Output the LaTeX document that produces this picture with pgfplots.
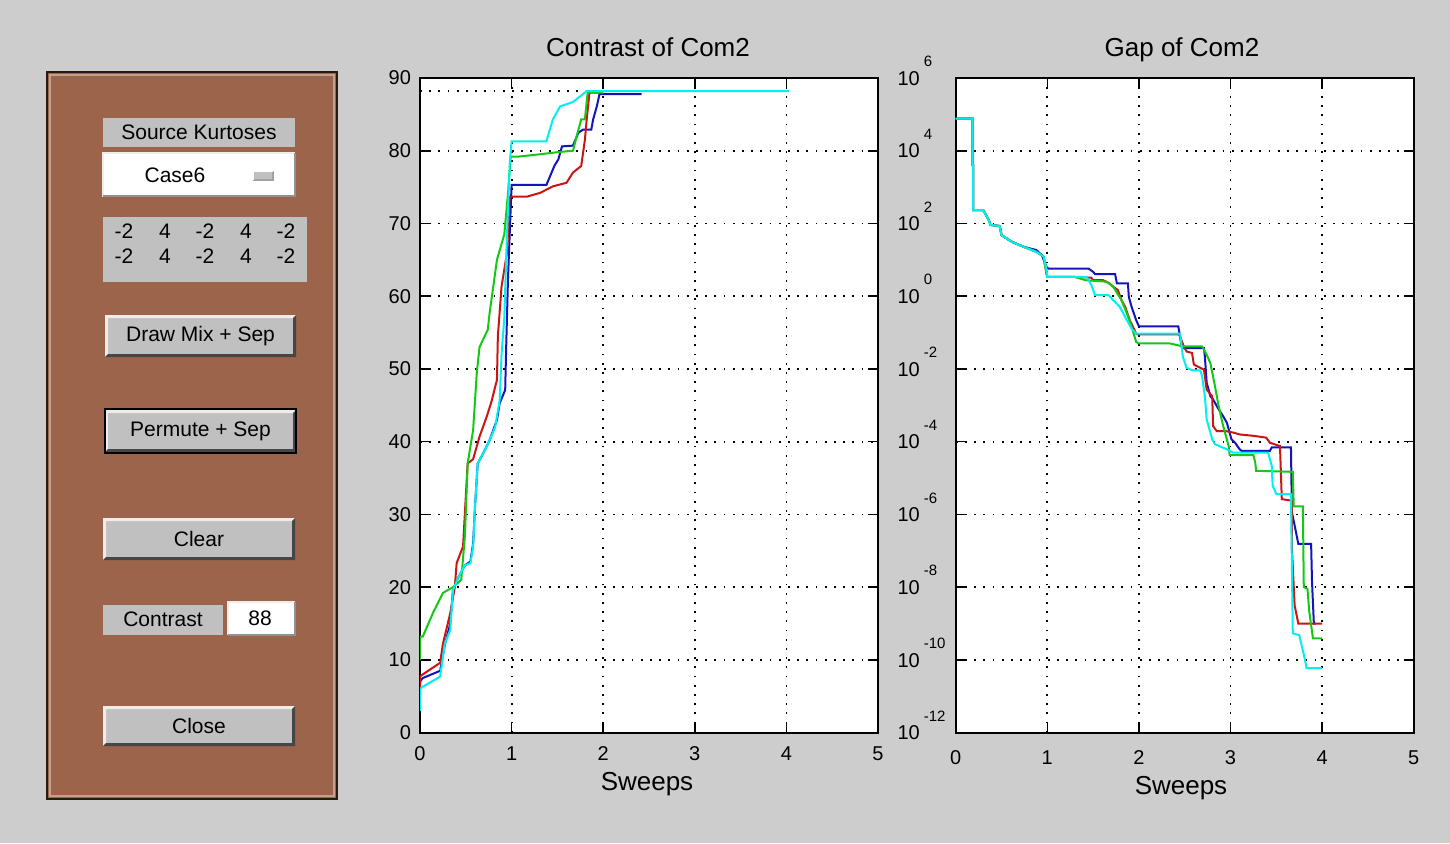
\documentclass[border=0pt]{standalone}
\usepackage{fontspec}
\setmainfont{Liberation Sans}
\usepackage{pgfplots}
\pgfplotsset{compat=1.18}
\definecolor{bg}{RGB}{205,205,205}
\definecolor{panel}{RGB}{156,100,74}
\definecolor{btn}{RGB}{192,192,192}
\definecolor{btnlight}{RGB}{242,236,232}
\definecolor{btndark}{RGB}{70,70,70}
\definecolor{mblue}{RGB}{20,20,190}
\definecolor{mred}{RGB}{205,20,20}
\definecolor{mgreen}{RGB}{20,200,20}
\definecolor{mcyan}{RGB}{0,240,240}
\newcommand{\guibtn}[5]{%
  \fill[btn] (#1,#2) rectangle (#3,#4);
  \fill[btnlight] (#1,#2) -- (#3,#2) -- ({#3-3},{#2+3}) -- ({#1+3},{#2+3}) -- ({#1+3},{#4-3}) -- (#1,#4) -- cycle;
  \fill[btndark] (#3,#4) -- (#1,#4) -- ({#1+3},{#4-3}) -- ({#3-3},{#4-3}) -- ({#3-3},{#2+3}) -- (#3,#2) -- cycle;
  \node[font=\fontsize{10.5}{12}\selectfont] at ({(#1+#3)/2},{(#2+#4)/2}) {#5};
}
\newcommand{\tenexp}[1]{10\hspace{2pt}\raisebox{9.3pt}{\fontsize{7.5}{8}\selectfont #1}}
\pgfplotsset{
  mstyle/.style={
    anchor=south west, scale only axis, width=229pt, height=327.3pt,
    axis background/.style={fill=white},
    axis line style={black, line width=0.9pt},
    tick align=inside, xtick pos=both, ytick pos=both,
    major tick length=5pt,
    tick style={black, line width=0.8pt},
    grid=major,
    grid style={black, dash pattern=on 0.9pt off 3.7pt, line width=0.9pt},
    ticklabel style={font=\fontsize{10}{12}\selectfont},
    xmin=0, xmax=5, xtick={0,1,2,3,4,5}, xticklabels={0,1,2,3,4,5},
    every axis plot/.append style={line width=1pt},
  }
}
\begin{document}
\begin{tikzpicture}
\fill[bg] (0,0) rectangle (725pt,421.5pt);
\begin{scope}[x=0.5pt,y=-0.5pt,shift={(0pt,421.5pt)}]
  % panel
  \fill[panel] (47,72) rectangle (337,799);
  \draw[black!75!panel, line width=0.9pt] (47,72) rectangle (337,799);
  \draw[btnlight!45!panel, line width=0.6pt] (50,75) rectangle (334,796);
  % Source Kurtoses label
  \fill[btn] (103,118) rectangle (295,147);
  \node[font=\fontsize{10.5}{12}\selectfont] at (199,132) {Source Kurtoses};
  % popup
  \fill[white] (103,153) rectangle (295,197);
  \draw[btnlight, line width=1pt] (103,197) -- (103,153) -- (295,153);
  \draw[btndark!60, line width=1.2pt] (103,196) -- (295,196) -- (295,153);
  \node[font=\fontsize{10.5}{12}\selectfont] at (175,175) {Case6};
  \fill[btn] (253,171) rectangle (273,180);
  \draw[btndark!50, line width=0.6pt] (253,180) -- (273,180) -- (273,171);
  \draw[white, line width=0.6pt] (253,180) -- (253,171) -- (273,171);
  % kurtosis numbers
  \fill[btn] (103,217) rectangle (307,282);
  \foreach \yy in {231,256}{
    \node[font=\fontsize{10.5}{12}\selectfont] at (124,\yy) {-2};
    \node[font=\fontsize{10.5}{12}\selectfont] at (165,\yy) {4};
    \node[font=\fontsize{10.5}{12}\selectfont] at (205,\yy) {-2};
    \node[font=\fontsize{10.5}{12}\selectfont] at (246,\yy) {4};
    \node[font=\fontsize{10.5}{12}\selectfont] at (286,\yy) {-2};
  }
  \guibtn{105}{315}{296}{357}{Draw Mix + Sep}
  \guibtn{105}{410}{296}{452}{Permute + Sep}
  \draw[black, line width=1.2pt] (105,409) rectangle (296,453);
  \guibtn{103}{518}{295}{560}{Clear}
  % contrast
  \fill[btn] (103,605) rectangle (223,635);
  \node[font=\fontsize{10.5}{12}\selectfont] at (163,619) {Contrast};
  \fill[white] (228,602) rectangle (295,635);
  \draw[btnlight, line width=1pt] (228,635) -- (228,602) -- (295,602);
  \draw[btndark!60, line width=1pt] (228,635) -- (295,635) -- (295,602);
  \node[font=\fontsize{10.5}{12}\selectfont] at (260,618) {88};
  \guibtn{103}{706}{295}{746}{Close}
  % titles and labels
  \node[font=\fontsize{13}{15}\selectfont, anchor=base] at (648,57) {Contrast of Com2};
  \node[font=\fontsize{13}{15}\selectfont, anchor=base] at (1182,57) {Gap of Com2};
  \node[font=\fontsize{13}{15}\selectfont, anchor=base] at (647,790) {Sweeps};
  \node[font=\fontsize{13}{15}\selectfont, anchor=base] at (1181,794) {Sweeps};
\end{scope}

\begin{axis}[mstyle, at={(210pt,55.2pt)},
  ymin=0, ymax=90, ytick={0,10,20,30,40,50,60,70,80,90},
  yticklabels={0,10,20,30,40,50,60,70,80,90},
  yticklabel style={xshift=-1pt},
  xticklabel style={yshift=-3.5pt}]
\addplot[black, dash pattern=on 0.9pt off 3.7pt, line width=0.9pt] coordinates {(0,88.2)(4.03,88.2)};
\addplot[mblue] coordinates {(0,5)(0,7)(0.03,7.5)(0.22,8.5)(0.27,12)(0.33,15)(0.36,19.6)(0.42,21.4)(0.49,23)(0.55,23.5)(0.58,26)(0.60,31)(0.63,37)(0.69,38.4)(0.76,40.2)(0.84,43)(0.87,45.3)(0.93,47.1)(0.94,52.6)(0.96,62.2)(1.0,75.3)(1.38,75.3)(1.42,76.5)(1.47,78)(1.51,78.8)(1.55,80.6)(1.67,80.7)(1.73,82.5)(1.78,82.9)(1.87,82.9)(1.89,84.3)(1.93,86.1)(1.96,87.8)(2.42,87.8)};
\addplot[mred] coordinates {(0,6)(0,7.7)(0.03,8)(0.22,9.6)(0.25,12.2)(0.33,16.4)(0.38,20)(0.40,23.3)(0.47,25.6)(0.52,37)(0.58,37.6)(0.65,40.7)(0.73,43.5)(0.78,45.5)(0.84,48.5)(0.85,54.5)(0.89,61.3)(0.95,66)(0.98,73.7)(1.17,73.7)(1.31,74.2)(1.45,75.1)(1.6,75.6)(1.67,77)(1.76,77.9)(1.80,81.5)(1.82,84.3)(1.85,88)(2.0,88)};
\addplot[mgreen] coordinates {(0,10)(0,13.2)(0.03,13.2)(0.14,16.4)(0.25,19.2)(0.36,20)(0.45,21)(0.49,27)(0.52,37)(0.58,41.6)(0.62,49.5)(0.65,53)(0.74,55.4)(0.76,57.7)(0.84,65)(0.92,68.5)(0.96,74)(0.99,79.2)(1.08,79.2)(1.3,79.5)(1.5,79.8)(1.67,80)(1.71,82)(1.76,84.3)(1.80,84.3)(1.83,88)(2.0,88)};
\addplot[mcyan] coordinates {(0,3)(0,6)(0.03,6.3)(0.22,7.7)(0.27,12.2)(0.33,14.1)(0.36,19.6)(0.42,21.4)(0.49,23)(0.55,23.3)(0.58,25.6)(0.60,31)(0.63,37)(0.69,38.4)(0.76,40.2)(0.82,42)(0.87,45.7)(0.89,52)(0.92,57)(0.945,66.8)(0.98,78.3)(1.0,81.3)(1.38,81.3)(1.45,84.3)(1.53,86.1)(1.67,86.7)(1.74,87.4)(1.82,88.2)(4.03,88.2)};
\end{axis}

\begin{axis}[mstyle, at={(477.85pt,55.2pt)},
  ymode=log, ymin=1e-12, ymax=1e6, yminorticks=false,
  ytick={1e-12,1e-10,1e-8,1e-6,1e-4,1e-2,1,1e2,1e4,1e6},
  yticklabels={\tenexp{-12},\tenexp{-10},\tenexp{-8},\tenexp{-6},\tenexp{-4},\tenexp{-2},\tenexp{0},\tenexp{2},\tenexp{4},\tenexp{6}},
  yticklabel style={anchor=base west, inner sep=0pt, xshift=-29.3pt, yshift=-3.6pt},
  xticklabel style={yshift=-5.5pt}]
\addplot[mblue] coordinates {(0,7.59e4)(0.185,7.59e4)(0.185,4.07e3)(0.19,4.07e3)(0.19,2.34e2)(0.30,2.34e2)(0.32,1.91e2)(0.36,1.26e2)(0.38,9.12e1)(0.48,8.51e1)(0.50,4.79e1)(0.61,3.16e1)
 (0.74,2.29e1)(0.88,1.86e1)(0.94,1.35e1)(0.99,6.46)(1.01,5.75)(1.45,5.75)(1.50,4.68)(1.52,4.07)(1.74,4.07)(1.76,2.24)(1.88,2.24)(1.89,9.55e-1)(1.92,5.13e-1)(1.97,2.19e-1)(2.0,1.48e-1)(2.43,1.48e-1)(2.47,3.72e-2)(2.71,3.72e-2)(2.72,2.24e-2)(2.74,4.17e-3)(2.78,1.78e-3)(2.81,1.45e-3)(2.87,7.76e-4)(2.92,5.01e-4)(2.96,3.31e-4)(2.99,1.78e-4)(3.01,1.17e-4)(3.05,9.33e-5)(3.10,6.17e-5)(3.12,5.62e-5)(3.43,5.62e-5)(3.45,6.92e-5)(3.66,6.92e-5)(3.67,1.15e-6)(3.70,5.01e-7)(3.74,1.55e-7)(3.88,1.55e-7)(3.89,1.38e-8)(3.91,1.0e-9)(3.93,1.0e-9)};
\addplot[mred] coordinates {(0,7.59e4)(0.185,7.59e4)(0.185,4.07e3)(0.19,4.07e3)(0.19,2.34e2)(0.30,2.34e2)(0.32,1.91e2)(0.36,1.26e2)(0.38,9.12e1)(0.48,8.51e1)(0.50,4.79e1)(0.61,3.16e1)
 (0.74,2.29e1)(0.88,1.66e1)(0.96,1.23e1)(0.99,4.27)(1.0,3.39)(1.28,3.39)(1.48,3.24)(1.50,2.75)(1.61,2.75)(1.68,2.24)(1.72,1.82)(1.77,1.48)(1.81,7.76e-1)(1.85,5.13e-1)(1.90,2.19e-1)(1.97,9.33e-2)(1.99,8.91e-2)(2.44,8.91e-2)(2.49,4.17e-2)(2.52,3.02e-2)(2.58,2.75e-2)(2.60,1.32e-2)(2.67,1.07e-2)(2.71,9.55e-3)(2.74,2.69e-3)(2.80,1.78e-3)(2.81,2.69e-4)(2.85,1.95e-4)(2.95,1.95e-4)(3.03,1.78e-4)(3.10,1.58e-4)(3.25,1.45e-4)(3.39,1.29e-4)(3.43,9.33e-5)(3.54,7.59e-5)(3.56,2.63e-6)(3.66,2.40e-6)(3.67,2.40e-6)(3.67,1.26e-7)(3.70,3.16e-9)(3.74,1.0e-9)(4.0,1.0e-9)};
\addplot[mgreen] coordinates {(0,7.59e4)(0.185,7.59e4)(0.185,4.07e3)(0.19,4.07e3)(0.19,2.34e2)(0.30,2.34e2)(0.32,1.91e2)(0.36,1.26e2)(0.38,9.12e1)(0.48,8.51e1)(0.50,4.79e1)(0.61,3.16e1)
 (0.74,2.29e1)(0.88,1.66e1)(0.96,1.23e1)(0.99,4.27)(1.0,3.39)(1.30,3.39)(1.42,2.75)(1.65,2.51)(1.72,1.82)(1.81,7.76e-1)(1.87,3.31e-1)(1.92,1.45e-1)(1.97,5.50e-2)(2.0,5.01e-2)(2.34,5.01e-2)(2.48,4.17e-2)(2.69,4.17e-2)(2.71,3.39e-2)(2.74,2.45e-2)(2.78,1.45e-2)(2.83,3.39e-3)(2.87,9.55e-4)(2.92,2.69e-4)(2.98,7.59e-5)(2.99,4.27e-5)(3.25,4.27e-5)(3.27,2.69e-5)(3.28,1.58e-5)(3.68,1.48e-5)(3.69,1.66e-6)(3.79,1.66e-6)(3.80,1.0e-8)(3.84,8.91e-9)(3.86,2.09e-9)(3.90,3.89e-10)(4.0,3.89e-10)};
\addplot[mcyan] coordinates {(0,7.59e4)(0.185,7.59e4)(0.185,4.07e3)(0.19,4.07e3)(0.19,2.34e2)(0.30,2.34e2)(0.32,1.91e2)(0.36,1.26e2)(0.38,9.12e1)(0.48,8.51e1)(0.50,4.79e1)(0.61,3.16e1)
 (0.74,2.29e1)(0.88,1.66e1)(0.96,1.23e1)(0.99,5.75)(1.0,3.39)(1.43,3.39)(1.48,2.04)(1.52,1.07)(1.67,1.07)(1.72,7.76e-1)(1.79,5.13e-1)(1.85,2.69e-1)(1.92,1.29e-1)(1.97,9.33e-2)(2.45,9.33e-2)(2.48,2.14e-2)(2.52,1.07e-2)(2.59,9.12e-3)(2.67,9.12e-3)(2.69,6.31e-3)(2.72,1.78e-3)(2.74,4.07e-4)(2.80,1.17e-4)(2.83,8.51e-5)(2.96,6.17e-5)(3.03,5.01e-5)(3.41,5.01e-5)(3.45,2.19e-5)(3.46,6.17e-6)(3.50,3.63e-6)(3.66,3.63e-6)(3.68,5.37e-10)(3.75,4.79e-10)(3.81,1.10e-10)(3.83,5.89e-11)(4.0,5.89e-11)};
\end{axis}
\end{tikzpicture}
\end{document}
